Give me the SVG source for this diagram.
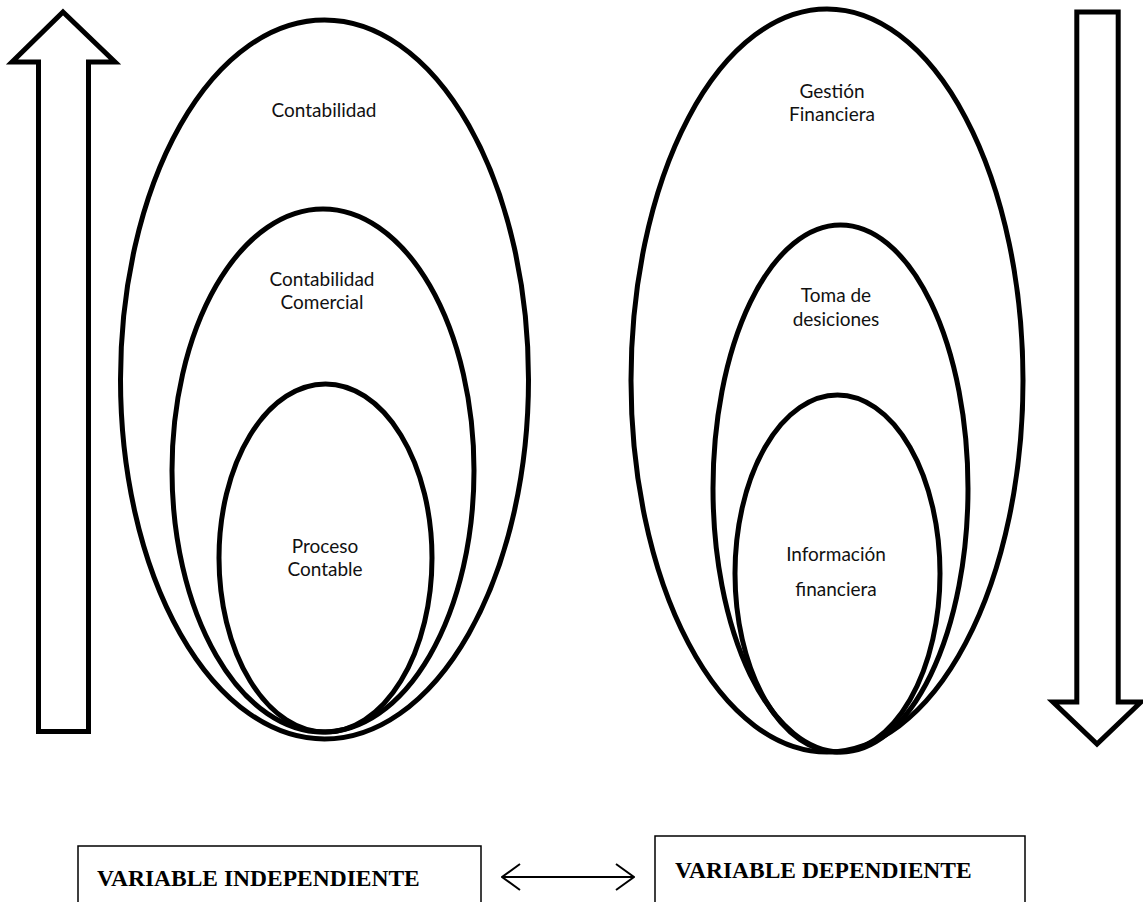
<svg xmlns="http://www.w3.org/2000/svg" width="1143" height="902" viewBox="0 0 1143 902">
<defs>
<style>
.ell{fill:none;stroke:#000;stroke-width:5}
.big{fill:#fff;stroke:#000;stroke-width:5;stroke-linejoin:miter}
.lbl{font-family:Lato,"Open Sans",sans-serif;font-size:19px;fill:#111;text-anchor:middle}
.box{fill:#fff;stroke:#000;stroke-width:1.5}
.var{font-family:"Liberation Serif","Times New Roman",serif;font-weight:bold;font-size:23.5px;fill:#000}
.conn{fill:none;stroke:#000;stroke-width:2}
</style>
<marker id="chev" viewBox="0 0 20 28" refX="19" refY="14" markerWidth="20" markerHeight="28" markerUnits="userSpaceOnUse" orient="auto-start-reverse">
<path d="M1,1 L19,14 L1,27" fill="none" stroke="#000" stroke-width="2"/>
</marker>
</defs>
<rect width="1143" height="902" fill="#fff"/>
<g id="arrow-up">
<polygon class="big" points="63,12 115,62 88.5,62 88.5,731.5 38.5,731.5 38.5,62 12,62"/>
</g>
<g id="arrow-down">
<polygon class="big" points="1076.8,12 1118.2,12 1118.2,702 1141,702 1097,744 1053,702 1076.8,702"/>
</g>
<g id="contabilidad">
<ellipse class="ell" cx="324.5" cy="379.5" rx="204" ry="359.5"/>
<text class="lbl" x="324" y="117">Contabilidad</text>
</g>
<g id="contabilidad-comercial">
<ellipse class="ell" cx="323" cy="470.5" rx="151" ry="261.5"/>
<text class="lbl" x="322" y="286">Contabilidad</text>
<text class="lbl" x="322" y="309">Comercial</text>
</g>
<g id="proceso-contable">
<ellipse class="ell" cx="325.5" cy="558" rx="106.5" ry="174"/>
<text class="lbl" x="325" y="553">Proceso</text>
<text class="lbl" x="325" y="576">Contable</text>
</g>
<g id="gestion-financiera">
<ellipse class="ell" cx="827" cy="380.5" rx="196" ry="371.5"/>
<text class="lbl" x="832" y="98">Gestión</text>
<text class="lbl" x="832" y="121">Financiera</text>
</g>
<g id="toma-decisiones">
<ellipse class="ell" cx="840.5" cy="488.5" rx="127.5" ry="263.5"/>
<text class="lbl" x="836" y="302">Toma de</text>
<text class="lbl" x="836" y="326">desiciones</text>
</g>
<g id="informacion-financiera">
<ellipse class="ell" cx="837.5" cy="573.5" rx="102.5" ry="178.5"/>
<text class="lbl" x="836" y="561">Información</text>
<text class="lbl" x="836" y="596">financiera</text>
</g>
<g id="variable-independiente">
<rect class="box" x="78" y="846" width="403" height="70"/>
<text class="var" x="97" y="886">VARIABLE INDEPENDIENTE</text>
</g>
<g id="variable-dependiente">
<rect class="box" x="655" y="836" width="370" height="80"/>
<text class="var" x="675" y="878">VARIABLE DEPENDIENTE</text>
</g>
<g id="connectors">
<line class="conn" x1="502" y1="877" x2="634" y2="877" marker-start="url(#chev)" marker-end="url(#chev)"/>
</g>
</svg>
